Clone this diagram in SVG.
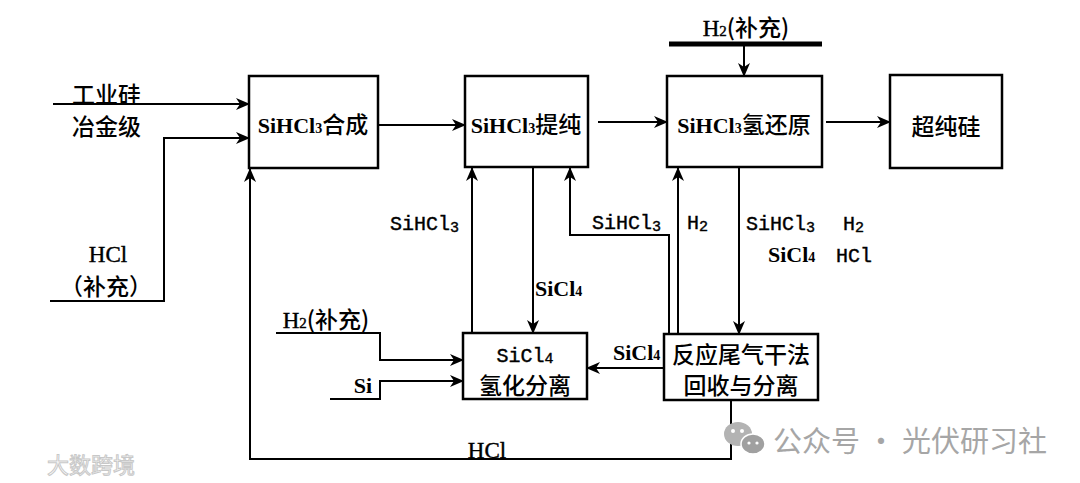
<svg xmlns="http://www.w3.org/2000/svg" width="1080" height="483" viewBox="0 0 1080 483">
<defs>
<marker id="ah" viewBox="0 0 14 12" refX="13" refY="6" markerWidth="14" markerHeight="12" markerUnits="userSpaceOnUse" orient="auto">
<path d="M0,0 L14,6 L0,12 L4,6 Z" fill="#000"/>
</marker>
</defs>
<style>
.box{fill:#fff;stroke:#000;stroke-width:2.5}
.ln{fill:none;stroke:#000;stroke-width:2}
.cn{font-family:"Noto Sans CJK SC","Noto Sans",sans-serif;font-size:23px;font-weight:500;fill:#000}
.sb{font-family:"Liberation Serif",serif;font-weight:bold;font-size:22px;fill:#000}
.mo{font-family:"Liberation Mono",monospace;font-size:20px;fill:#000;stroke:#000;stroke-width:0.4}
.se{font-family:"Liberation Serif",serif;font-size:23px;fill:#000;stroke:#000;stroke-width:0.4}
.wm{font-family:"Noto Sans CJK SC","Noto Sans",sans-serif;font-size:29px;fill:#a6a6a6}
</style>
<rect width="1080" height="483" fill="#fff"/>

<g id="connectors">
<path class="ln" d="M53,104 H249" marker-end="url(#ah)"/>
<path class="ln" d="M50,301 H164 V138 H249" marker-end="url(#ah)"/>
<path class="ln" d="M378,125 H465" marker-end="url(#ah)"/>
<path class="ln" d="M598,122 H667" marker-end="url(#ah)"/>
<path class="ln" d="M826,122 H890" marker-end="url(#ah)"/>
<path d="M669,44 H822" stroke="#000" stroke-width="5" fill="none"/>
<path class="ln" d="M744,46 V76" marker-end="url(#ah)"/>
<path class="ln" d="M472,333 V168" marker-end="url(#ah)"/>
<path class="ln" d="M533,167 V333" marker-end="url(#ah)"/>
<path class="ln" d="M669,334 V235 H570 V168" marker-end="url(#ah)"/>
<path class="ln" d="M678,334 V168" marker-end="url(#ah)"/>
<path class="ln" d="M739,167 V334" marker-end="url(#ah)"/>
<path class="ln" d="M664,368 H587" marker-end="url(#ah)"/>
<path class="ln" d="M276,333 H380 V360 H463" marker-end="url(#ah)"/>
<path class="ln" d="M330,399 H380 V381 H463" marker-end="url(#ah)"/>
<path class="ln" d="M731,400 V459 H250 V169" marker-end="url(#ah)"/>
</g>

<g id="labels">
<text class="cn" x="72" y="103">工业硅</text>
<text class="cn" x="72" y="135">冶金级</text>
<text class="se" x="108" y="262" text-anchor="middle">HCl</text>
<text class="cn" x="106" y="295" text-anchor="middle">（补充）</text>
<text class="se" x="746" y="36" text-anchor="middle">H<tspan font-size="15">2</tspan><tspan class="cn" font-size="22" stroke="none">(补充)</tspan></text>
<text class="se" x="326" y="328" text-anchor="middle">H<tspan font-size="15">2</tspan><tspan class="cn" font-size="22" stroke="none">(补充)</tspan></text>
<text class="sb" x="363" y="393" text-anchor="middle">Si</text>
<text class="se" x="487" y="458" text-anchor="middle">HCl</text>
<text class="mo" x="390" y="230">SiHCl<tspan font-size="15" dy="2">3</tspan></text>
<text class="mo" x="592" y="229">SiHCl<tspan font-size="15" dy="2">3</tspan></text>
<text class="mo" x="687" y="229">H<tspan font-size="15" dy="2">2</tspan></text>
<text class="mo" x="746" y="230">SiHCl<tspan font-size="15" dy="2">3</tspan></text>
<text class="mo" x="843" y="230">H<tspan font-size="15" dy="2">2</tspan></text>
<text class="sb" x="768" y="262">SiCl<tspan font-size="14">4</tspan></text>
<text class="mo" x="836" y="262">HCl</text>
<text class="sb" x="535" y="296">SiCl<tspan font-size="14">4</tspan></text>
<text class="sb" x="613" y="360">SiCl<tspan font-size="14">4</tspan></text>
</g>

<g id="n1">
<rect class="box" x="249" y="76" width="129" height="92"/>
<text class="sb" x="313" y="133" text-anchor="middle">SiHCl<tspan font-size="14">3</tspan><tspan class="cn">合成</tspan></text>
</g>
<g id="n2">
<rect class="box" x="465" y="76" width="123" height="91"/>
<text class="sb" x="526" y="133" text-anchor="middle">SiHCl<tspan font-size="14">3</tspan><tspan class="cn">提纯</tspan></text>
</g>
<g id="n3">
<rect class="box" x="667" y="76" width="155" height="91"/>
<text class="sb" x="744" y="133" text-anchor="middle">SiHCl<tspan font-size="14">3</tspan><tspan class="cn">氢还原</tspan></text>
</g>
<g id="n4">
<rect class="box" x="890" y="75" width="112" height="93"/>
<text class="cn" x="946" y="135" text-anchor="middle">超纯硅</text>
</g>
<g id="n5">
<rect class="box" x="463" y="333" width="124" height="66"/>
<text class="mo" x="525" y="362" text-anchor="middle">SiCl<tspan font-size="15" dy="1">4</tspan></text>
<text class="cn" x="525" y="394" text-anchor="middle">氢化分离</text>
</g>
<g id="n6">
<rect class="box" x="664" y="334" width="154" height="66"/>
<text class="cn" x="741" y="363" text-anchor="middle">反应尾气干法</text>
<text class="cn" x="741" y="394" text-anchor="middle">回收与分离</text>
</g>

<g id="watermarks">
<ellipse cx="738" cy="434" rx="14" ry="12" fill="#b3b3b3"/>
<ellipse cx="753" cy="444" rx="12" ry="10" fill="#a0a0a0" stroke="#fff" stroke-width="1.5"/>
<circle cx="733" cy="431" r="2" fill="#fff"/>
<circle cx="742" cy="431" r="2" fill="#fff"/>
<circle cx="749" cy="443" r="1.6" fill="#fff"/>
<circle cx="757" cy="443" r="1.6" fill="#fff"/>
<text class="wm" x="773" y="452">公众号 · 光伏研习社</text>
<text x="47" y="473" font-family="'Noto Sans CJK SC',sans-serif" font-size="22" fill="#fff" stroke="#c8c8c8" stroke-width="1">大数跨境</text>
</g>
</svg>
